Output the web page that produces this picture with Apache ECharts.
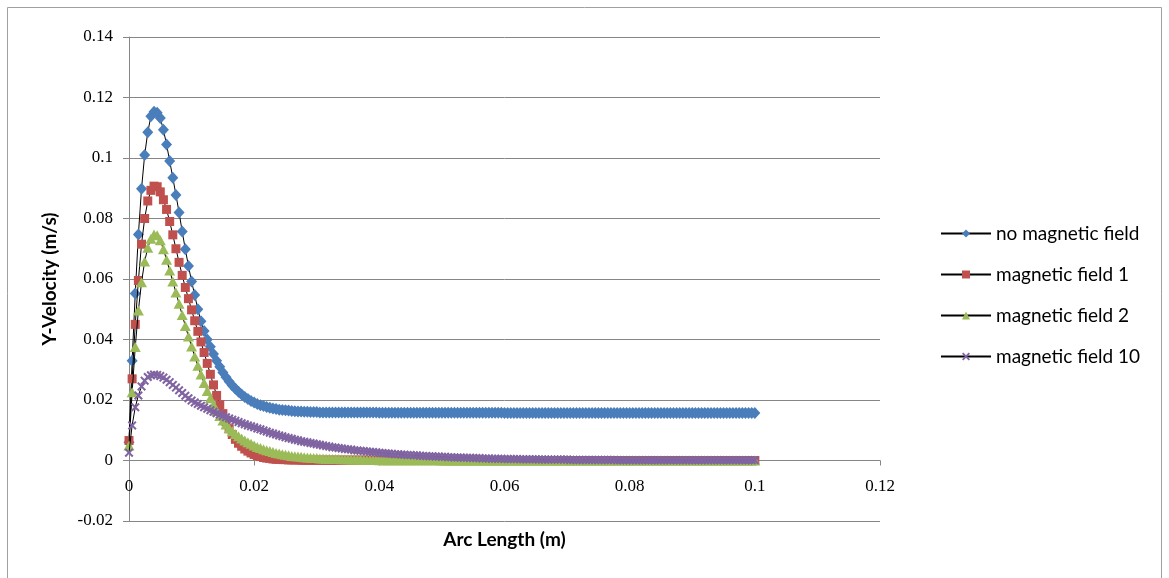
<!DOCTYPE html>
<html>
<head>
<meta charset="utf-8">
<script src="https://cdn.jsdelivr.net/npm/echarts@6/dist/echarts.min.js"></script>
<style>
html,body{margin:0;padding:0;background:#fff;}
#chart{width:1169px;height:578px;}
</style>
</head>
<body>
<div id="chart"></div>
<script>
// Arc length (m)
const arcLength = [
0,0.0005,0.001,0.0015,0.002,0.0025,0.003,0.0035,0.004,0.0045,0.005,0.0055,0.006,0.0065,0.007,0.0075,0.008,0.0085,0.009,0.0095,
0.01,0.0105,0.011,0.0115,0.012,0.0125,0.013,0.0135,0.014,0.0145,0.015,0.0155,0.016,0.0165,0.017,0.0175,0.018,0.0185,0.019,0.0195,
0.02,0.0205,0.021,0.0215,0.022,0.0225,0.023,0.0235,0.024,0.0245,0.025,0.0255,0.026,0.0265,0.027,0.0275,0.028,0.0285,0.029,0.0295,
0.03,0.0305,0.031,0.0315,0.032,0.0325,0.033,0.0335,0.034,0.0345,0.035,0.0355,0.036,0.0365,0.037,0.0375,0.038,0.0385,0.039,0.0395,
0.04,0.0405,0.041,0.0415,0.042,0.0425,0.043,0.0435,0.044,0.0445,0.045,0.0455,0.046,0.0465,0.047,0.0475,0.048,0.0485,0.049,0.0495,
0.05,0.0505,0.051,0.0515,0.052,0.0525,0.053,0.0535,0.054,0.0545,0.055,0.0555,0.056,0.0565,0.057,0.0575,0.058,0.0585,0.059,0.0595,
0.06,0.0605,0.061,0.0615,0.062,0.0625,0.063,0.0635,0.064,0.0645,0.065,0.0655,0.066,0.0665,0.067,0.0675,0.068,0.0685,0.069,0.0695,
0.07,0.0705,0.071,0.0715,0.072,0.0725,0.073,0.0735,0.074,0.0745,0.075,0.0755,0.076,0.0765,0.077,0.0775,0.078,0.0785,0.079,0.0795,
0.08,0.0805,0.081,0.0815,0.082,0.0825,0.083,0.0835,0.084,0.0845,0.085,0.0855,0.086,0.0865,0.087,0.0875,0.088,0.0885,0.089,0.0895,
0.09,0.0905,0.091,0.0915,0.092,0.0925,0.093,0.0935,0.094,0.0945,0.095,0.0955,0.096,0.0965,0.097,0.0975,0.098,0.0985,0.099,0.0995,
0.1
];

const noMagneticField = [
0.0060,0.0330,0.0552,0.0747,0.0898,0.1010,0.1085,0.1138,0.1153,0.1150,0.1132,0.1093,0.1045,0.0990,0.0935,0.0878,0.0820,0.0757,0.0698,0.0643,
0.0592,0.0547,0.0500,0.0460,0.0428,0.0400,0.0376,0.0352,0.0330,0.0310,0.0291,0.0275,0.0261,0.0248,0.0237,0.0227,0.0218,0.0210,0.0203,0.0197,
0.0192,0.0187,0.0183,0.0180,0.0177,0.0174,0.0172,0.0170,0.0168,0.0167,0.0166,0.0165,0.0164,0.0163,0.0162,0.0162,0.0161,0.0161,0.0160,0.0160,
0.0160,0.0159,0.0159,0.0159,0.0159,0.0159,0.0159,0.0159,0.0159,0.0159,0.0159,0.0159,0.0159,0.0159,0.0159,0.0159,0.0159,0.0159,0.0159,0.0159,
0.0158,0.0158,0.0158,0.0158,0.0158,0.0158,0.0158,0.0158,0.0158,0.0158,0.0158,0.0158,0.0158,0.0158,0.0158,0.0158,0.0158,0.0158,0.0158,0.0158,
0.0158,0.0158,0.0158,0.0158,0.0158,0.0158,0.0158,0.0158,0.0158,0.0158,0.0158,0.0158,0.0158,0.0158,0.0158,0.0158,0.0158,0.0158,0.0158,0.0158,
0.0157,0.0157,0.0157,0.0157,0.0157,0.0157,0.0157,0.0157,0.0157,0.0157,0.0157,0.0157,0.0157,0.0157,0.0157,0.0157,0.0157,0.0157,0.0157,0.0157,
0.0157,0.0157,0.0157,0.0157,0.0157,0.0157,0.0157,0.0157,0.0157,0.0157,0.0157,0.0157,0.0157,0.0157,0.0157,0.0157,0.0157,0.0157,0.0157,0.0157,
0.0157,0.0157,0.0157,0.0157,0.0157,0.0157,0.0157,0.0157,0.0157,0.0157,0.0157,0.0157,0.0157,0.0157,0.0157,0.0157,0.0157,0.0157,0.0157,0.0157,
0.0157,0.0157,0.0157,0.0157,0.0157,0.0157,0.0157,0.0157,0.0157,0.0157,0.0157,0.0157,0.0157,0.0157,0.0157,0.0157,0.0157,0.0157,0.0157,0.0157,
0.0157
];

const magneticField1 = [
0.0066,0.0270,0.0450,0.0595,0.0715,0.0800,0.0858,0.0893,0.0907,0.0905,0.0888,0.0862,0.0830,0.0790,0.0746,0.0700,0.0655,0.0612,0.0572,0.0535,
0.0498,0.0462,0.0427,0.0392,0.0357,0.0321,0.0285,0.0250,0.0215,0.0184,0.0155,0.0128,0.0105,0.0086,0.0070,0.0057,0.0047,0.0038,0.0031,0.0025,
0.0020,0.0016,0.0013,0.0010,0.0008,0.0007,0.0005,0.0004,0.0004,0.0003,0.0003,0.0002,0.0002,0.0002,0.0002,0.0001,0.0001,0.0001,0.0001,0.0001,
0.0001,0.0001,0.0001,0.0001,0.0001,0.0001,0.0001,0.0001,0.0001,0.0001,0.0001,0.0001,0.0001,0.0001,0.0001,0.0001,0.0001,0.0001,0.0001,0.0001,
0,0,0,0,0,0,0,0,0,0,0,0,0,0,0,0,0,0,0,0,
0,0,0,0,0,0,0,0,0,0,0,0,0,0,0,0,0,0,0,0,
0,0,0,0,0,0,0,0,0,0,0,0,0,0,0,0,0,0,0,0,
0,0,0,0,0,0,0,0,0,0,0,0,0,0,0,0,0,0,0,0,
0,0,0,0,0,0,0,0,0,0,0,0,0,0,0,0,0,0,0,0,
0,0,0,0,0,0,0,0,0,0,0,0,0,0,0,0,0,0,0,0,
0
];

const magneticField2 = [
0.0050,0.0226,0.0375,0.0496,0.0589,0.0658,0.0703,0.0733,0.0747,0.0745,0.0728,0.0698,0.0664,0.0628,0.0592,0.0555,0.0518,0.0481,0.0445,0.0410,
0.0377,0.0344,0.0313,0.0284,0.0256,0.0230,0.0206,0.0184,0.0164,0.0147,0.0132,0.0119,0.0107,0.0097,0.0088,0.0080,0.0073,0.0066,0.0060,0.0055,
0.0050,0.0045,0.0041,0.0037,0.0034,0.0031,0.0028,0.0025,0.0023,0.0021,0.0019,0.0017,0.0015,0.0014,0.0013,0.0012,0.0011,0.0010,0.0009,0.0008,
0.0008,0.0007,0.0007,0.0006,0.0006,0.0005,0.0005,0.0005,0.0004,0.0004,0.0004,0.0003,0.0003,0.0003,0.0003,0.0002,0.0002,0.0002,0.0002,0.0002,
0.0001,0.0001,0.0001,0.0001,0.0001,0.0001,0.0001,0.0001,0.0001,0.0001,0.0001,0.0001,0.0001,0.0001,0.0001,0.0001,0.0001,0.0001,0.0001,0.0001,
0,0,0,0,0,0,0,0,0,0,0,0,0,0,0,0,0,0,0,0,
0,0,0,0,0,0,0,0,0,0,0,0,0,0,0,0,0,0,0,0,
0,0,0,0,0,0,0,0,0,0,0,0,0,0,0,0,0,0,0,0,
0,0,0,0,0,0,0,0,0,0,0,0,0,0,0,0,0,0,0,0,
0,0,0,0,0,0,0,0,0,0,0,0,0,0,0,0,0,0,0,0,
0
];

const magneticField10 = [
0.0026,0.0116,0.0176,0.0215,0.0245,0.0264,0.0276,0.0282,0.0284,0.0283,0.0279,0.0274,0.0267,0.0259,0.0250,0.0241,0.0232,0.0223,0.0214,0.0206,
0.0198,0.0192,0.0187,0.0181,0.0176,0.0171,0.0166,0.0161,0.0156,0.0152,0.0147,0.0143,0.0139,0.0135,0.0131,0.0127,0.0123,0.0120,0.0116,0.0113,
0.0110,0.0106,0.0103,0.0099,0.0096,0.0092,0.0089,0.0086,0.0083,0.0080,0.0077,0.0074,0.0072,0.0069,0.0067,0.0064,0.0062,0.0060,0.0058,0.0056,
0.0054,0.0052,0.0050,0.0048,0.0046,0.0044,0.0043,0.0041,0.0040,0.0038,0.0037,0.0036,0.0034,0.0033,0.0032,0.0031,0.0030,0.0029,0.0028,0.0027,
0.0026,0.0025,0.0024,0.0023,0.0022,0.0021,0.0021,0.0020,0.0019,0.0018,0.0018,0.0017,0.0017,0.0016,0.0015,0.0015,0.0014,0.0014,0.0013,0.0013,
0.0012,0.0012,0.0011,0.0011,0.0010,0.0010,0.0010,0.0009,0.0009,0.0009,0.0008,0.0008,0.0008,0.0007,0.0007,0.0007,0.0006,0.0006,0.0006,0.0006,
0.0005,0.0005,0.0005,0.0005,0.0005,0.0004,0.0004,0.0004,0.0004,0.0004,0.0004,0.0003,0.0003,0.0003,0.0003,0.0003,0.0003,0.0003,0.0003,0.0003,
0.0003,0.0002,0.0002,0.0002,0.0002,0.0002,0.0002,0.0002,0.0002,0.0002,0.0002,0.0002,0.0002,0.0002,0.0002,0.0002,0.0001,0.0001,0.0001,0.0001,
0.0001,0.0001,0.0001,0.0001,0.0001,0.0001,0.0001,0.0001,0.0001,0.0001,0.0001,0.0001,0.0001,0.0001,0.0001,0.0001,0.0001,0.0001,0.0001,0.0001,
0.0001,0.0001,0.0001,0.0001,0.0001,0.0001,0.0001,0.0001,0.0001,0.0001,0.0001,0.0001,0.0001,0.0001,0.0001,0.0001,0.0001,0.0001,0.0001,0.0001,
0.0001
];

const seriesNames = ['no magnetic field', 'magnetic field 1', 'magnetic field 2', 'magnetic field 10'];
const xTickLabels = ['0', '0.02', '0.04', '0.06', '0.08', '0.1', '0.12'];
const yTickLabels = ['-0.02', '0', '0.02', '0.04', '0.06', '0.08', '0.1', '0.12', '0.14'];
const xAxisTitle = 'Arc Length (m)';
const yAxisTitle = 'Y-Velocity (m/s)';

const seriesValues = [noMagneticField, magneticField1, magneticField2, magneticField10];
const colors = ['#4a7ebb', '#c0504d', '#9bbb59', '#8064a2'];
const crossPath = 'path://M0,1.6 L1.6,0 L5,3.4 L8.4,0 L10,1.6 L6.6,5 L10,8.4 L8.4,10 L5,6.6 L1.6,10 L0,8.4 L3.4,5 Z';
const symbols = ['diamond', 'rect', 'triangle', crossPath];
const symbolSizes = [[11, 12], 9, [11, 10], 9];

function pairs(vals) {
  const n = Math.min(arcLength.length, vals.length);
  const out = [];
  for (let i = 0; i < n; i++) out.push([arcLength[i], vals[i]]);
  return out;
}

const chart = echarts.init(document.getElementById('chart'), null, {renderer: 'canvas'});
const gridCol = '#868686';
// grid: top 37, bottom edge at 521 (-0.02); y = 0 sits 60.5 px above the bottom edge
const option = {
  animation: false,
  backgroundColor: '#ffffff',
  graphic: [{
    type: 'rect', silent: true,
    shape: {x: 7.5, y: 7.5, width: 1154, height: 600},
    style: {fill: null, stroke: '#a0a0a0', lineWidth: 1}
  }],
  grid: {left: 129, right: 289, top: 37, bottom: 57, containLabel: false, outerBoundsMode: 'none'},
  legend: {
    orient: 'vertical',
    left: 935, top: 219,
    itemWidth: 50, itemHeight: 10, itemGap: 22,
    textStyle: {fontFamily: 'Lato', fontSize: 19, color: '#000'},
    data: seriesNames
  },
  xAxis: {
    type: 'value', min: 0, max: 0.12, interval: 0.02,
    position: 'bottom', offset: -60.5,
    name: xAxisTitle, nameLocation: 'middle', nameGap: 70,
    nameTextStyle: {fontFamily: 'Lato', fontWeight: 'bold', fontSize: 19, color: '#000'},
    axisLine: {show: true, onZero: false, lineStyle: {color: gridCol, width: 1}},
    axisTick: {show: true, inside: false, length: 5, lineStyle: {color: gridCol}},
    axisLabel: {fontFamily: 'Liberation Serif', fontSize: 17, color: '#000', margin: 18,
      formatter: function (v) { return xTickLabels[Math.round(v / 0.02)]; }},
    splitLine: {show: false}
  },
  yAxis: {
    type: 'value', min: -0.02, max: 0.14, interval: 0.02,
    name: yAxisTitle, nameLocation: 'middle', nameGap: 70, nameRotate: 90,
    nameTextStyle: {fontFamily: 'Lato', fontWeight: 'bold', fontSize: 19, color: '#000'},
    axisLine: {show: true, onZero: false, lineStyle: {color: gridCol, width: 1}},
    axisTick: {show: true, inside: false, length: 6, lineStyle: {color: gridCol}},
    axisLabel: {fontFamily: 'Liberation Serif', fontSize: 17, color: '#000', margin: 16,
      formatter: function (v) { return yTickLabels[Math.round((v + 0.02) / 0.02)]; }},
    splitLine: {show: true, lineStyle: {color: gridCol, width: 1}}
  },
  series: seriesNames.map(function (name, k) {
    return {
      name: name,
      type: 'line',
      data: pairs(seriesValues[k]),
      symbol: symbols[k],
      symbolSize: symbolSizes[k],
      showSymbol: true,
      showAllSymbol: true,
      lineStyle: {color: '#000', width: 1},
      itemStyle: {color: colors[k], borderWidth: 0},
      emphasis: {disabled: true},
      z: 2 + k
    };
  })
};
chart.setOption(option);
</script>
</body>
</html>
